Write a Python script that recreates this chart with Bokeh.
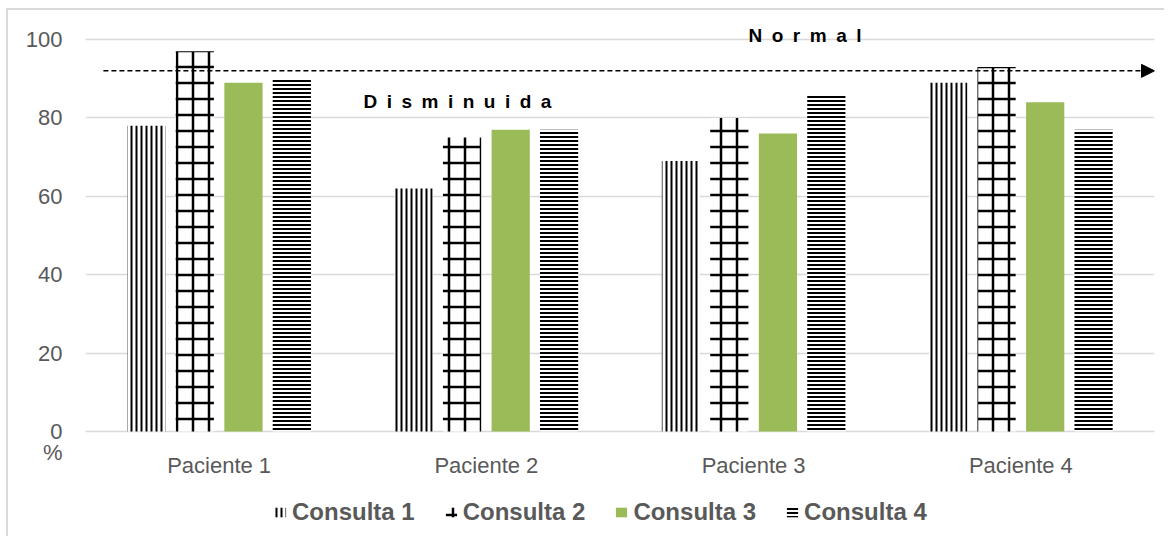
from bokeh.plotting import figure
from bokeh.layouts import column
from bokeh.models import (ColumnDataSource, Range1d, FactorRange, FixedTicker, Legend, LegendItem,
                          Label, Arrow, NormalHead)
from bokeh.transform import dodge
from bokeh.embed import file_html
from bokeh.resources import INLINE

# ---- data ----
pacientes = ["Paciente 1", "Paciente 2", "Paciente 3", "Paciente 4"]
consulta1 = [78, 62, 69, 89]
consulta2 = [97, 75, 80, 93]
consulta3 = [89, 77, 76, 84]
consulta4 = [90, 77, 86, 77]
series_names = ["Consulta 1", "Consulta 2", "Consulta 3", "Consulta 4"]
y_ticks = [0, 20, 40, 60, 80, 100]
pct_tick = -5.36
umbral_normal = 92
texto_normal = "N\u2002o\u2002r\u2002m\u2002a\u2002l"
texto_dism = "D\u2002i\u2002s\u2002m\u2002i\u2002n\u2002u\u2002i\u2002d\u2002a"

src = ColumnDataSource(dict(p=pacientes, c1=consulta1, c2=consulta2, c3=consulta3, c4=consulta4))

FONT = "Liberation Sans"
GRAY = "#595959"
bw = 0.143
offs = [-0.272, -0.091, 0.091, 0.272]
cols = ["c1", "c2", "c3", "c4"]
styles = [
    dict(fill_color="white", hatch_pattern="|", hatch_scale=5, hatch_weight=2, hatch_color="black"),
    dict(fill_color="white", hatch_pattern="+", hatch_scale=16, hatch_weight=2.5, hatch_color="black"),
    dict(fill_color="#9BBB59"),
    dict(fill_color="white", hatch_pattern="-", hatch_scale=4, hatch_weight=2, hatch_color="black"),
]


def add_bars(fig):
    rs = []
    for off, col, st in zip(offs, cols, styles):
        rs.append(fig.vbar(x=dodge("p", off, range=fig.x_range), top=col, bottom=0, width=bw,
                           source=src, line_color=None, **st))
    return rs


# ---------------- main chart ----------------
p = figure(x_range=FactorRange(*pacientes), y_range=Range1d(pct_tick, 104.85),
           width=1158, height=472, output_backend="svg", toolbar_location=None,
           min_border_left=77, min_border_right=12, min_border_top=10, min_border_bottom=30)
p.styles = {"border-left": "2px solid #D9D9D9", "border-top": "2px solid #D9D9D9"}
p.outline_line_color = None
p.background_fill_color = "white"
p.border_fill_color = "white"

add_bars(p)

p.yaxis.ticker = FixedTicker(ticks=[pct_tick] + y_ticks)
p.yaxis.major_label_overrides = {pct_tick: "%"}
for ax in (p.xaxis[0], p.yaxis[0]):
    ax.axis_line_color = None
    ax.major_tick_line_color = None
    ax.minor_tick_line_color = None
    ax.major_label_text_font = FONT
    ax.major_label_text_font_size = "22px"
    ax.major_label_text_color = GRAY
p.yaxis.major_label_standoff = 17
p.xaxis.major_tick_out = 0
p.xaxis.major_tick_in = 0
p.xaxis.major_label_standoff = 0
p.xgrid.grid_line_color = None
p.ygrid.grid_line_color = "#D9D9D9"
p.ygrid.grid_line_width = 1.3
p.ygrid.ticker = FixedTicker(ticks=y_ticks)

p.add_layout(Arrow(x_start=0.067, y_start=umbral_normal, x_end=4.0, y_end=umbral_normal,
                   line_color="black", line_width=1.5, line_dash="5 3",
                   end=NormalHead(size=13, fill_color="black", line_color="black", line_width=1)))

p.add_layout(Label(x=2.481, y=101.0, text=texto_normal, text_font=FONT, text_font_size="19px",
                   text_font_style="bold", text_color="black", text_baseline="middle"))
p.add_layout(Label(x=1.040, y=84.2, text=texto_dism, text_font=FONT, text_font_size="19px",
                   text_font_style="bold", text_color="black", text_baseline="middle"))

# ---------------- legend strip ----------------
lg = figure(x_range=FactorRange(*pacientes), y_range=Range1d(1000, 1001),
            width=1158, height=56, output_backend="svg", toolbar_location=None,
            x_axis_location=None, y_axis_location=None,
            min_border_left=0, min_border_right=0, min_border_top=0, min_border_bottom=0)
lg.styles = {"border-left": "2px solid #D9D9D9"}
lg.outline_line_color = None
lg.xgrid.grid_line_color = None
lg.ygrid.grid_line_color = None
lg.background_fill_color = "white"
lg.border_fill_color = "white"
leg_renderers = add_bars(lg)

legend = Legend(items=[LegendItem(label=n, renderers=[r]) for n, r in zip(series_names, leg_renderers)],
                location=(188, 10), orientation="horizontal",
                glyph_width=14, glyph_height=12, label_standoff=5, spacing=29,
                padding=0, margin=0, border_line_color=None, background_fill_alpha=0,
                label_text_font=FONT, label_text_font_size="24px", label_text_font_style="bold",
                label_text_color=GRAY)
lg.add_layout(legend)

layout = column(p, lg, spacing=0)
layout.styles = {"margin-left": "6px", "margin-top": "8px"}
open("out.html", "w").write(file_html(layout, INLINE))
